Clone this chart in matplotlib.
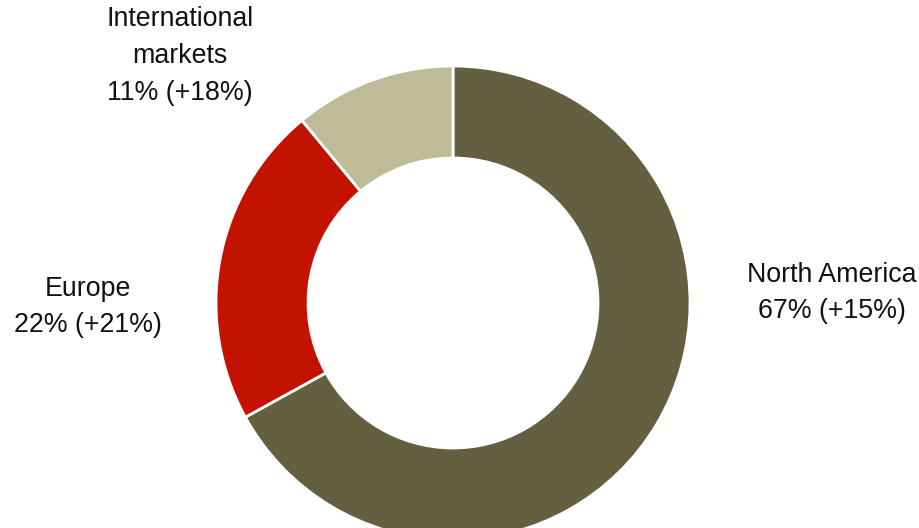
import matplotlib.pyplot as plt

plt.rcParams['font.family'] = ['Liberation Sans', 'DejaVu Sans']

regions = ['North America', 'Europe', 'International\nmarkets']
shares = [67, 22, 11]
growth = [15, 21, 18]
colors = ['#635F40', '#C41200', '#BDBB98']

# label block centres, in pixels from the top-left corner
label_pos = [(832, 293), (88, 307), (180, 56)]


def main():
    fig = plt.figure(figsize=(9.2, 5.28), dpi=100)
    ax = fig.add_axes([0, 0, 1, 1])

    ax.pie(shares, colors=colors, startangle=90, counterclock=False,
           center=(453, 528 - 303), radius=237, frame=True,
           wedgeprops=dict(width=92, edgecolor='white', linewidth=2))
    ax.set_xlim(0, 920)
    ax.set_ylim(0, 528)
    ax.set_aspect('equal')
    ax.axis('off')

    for name, s, g, (x, y) in zip(regions, shares, growth, label_pos):
        ax.text(x, 528 - y, f"{name}\n{s}% (+{g}%)", ha='center', va='center',
                fontsize=19.3, color='#111111', linespacing=1.55)

    fig.savefig('out.png', dpi=100)


if __name__ == '__main__':
    main()
